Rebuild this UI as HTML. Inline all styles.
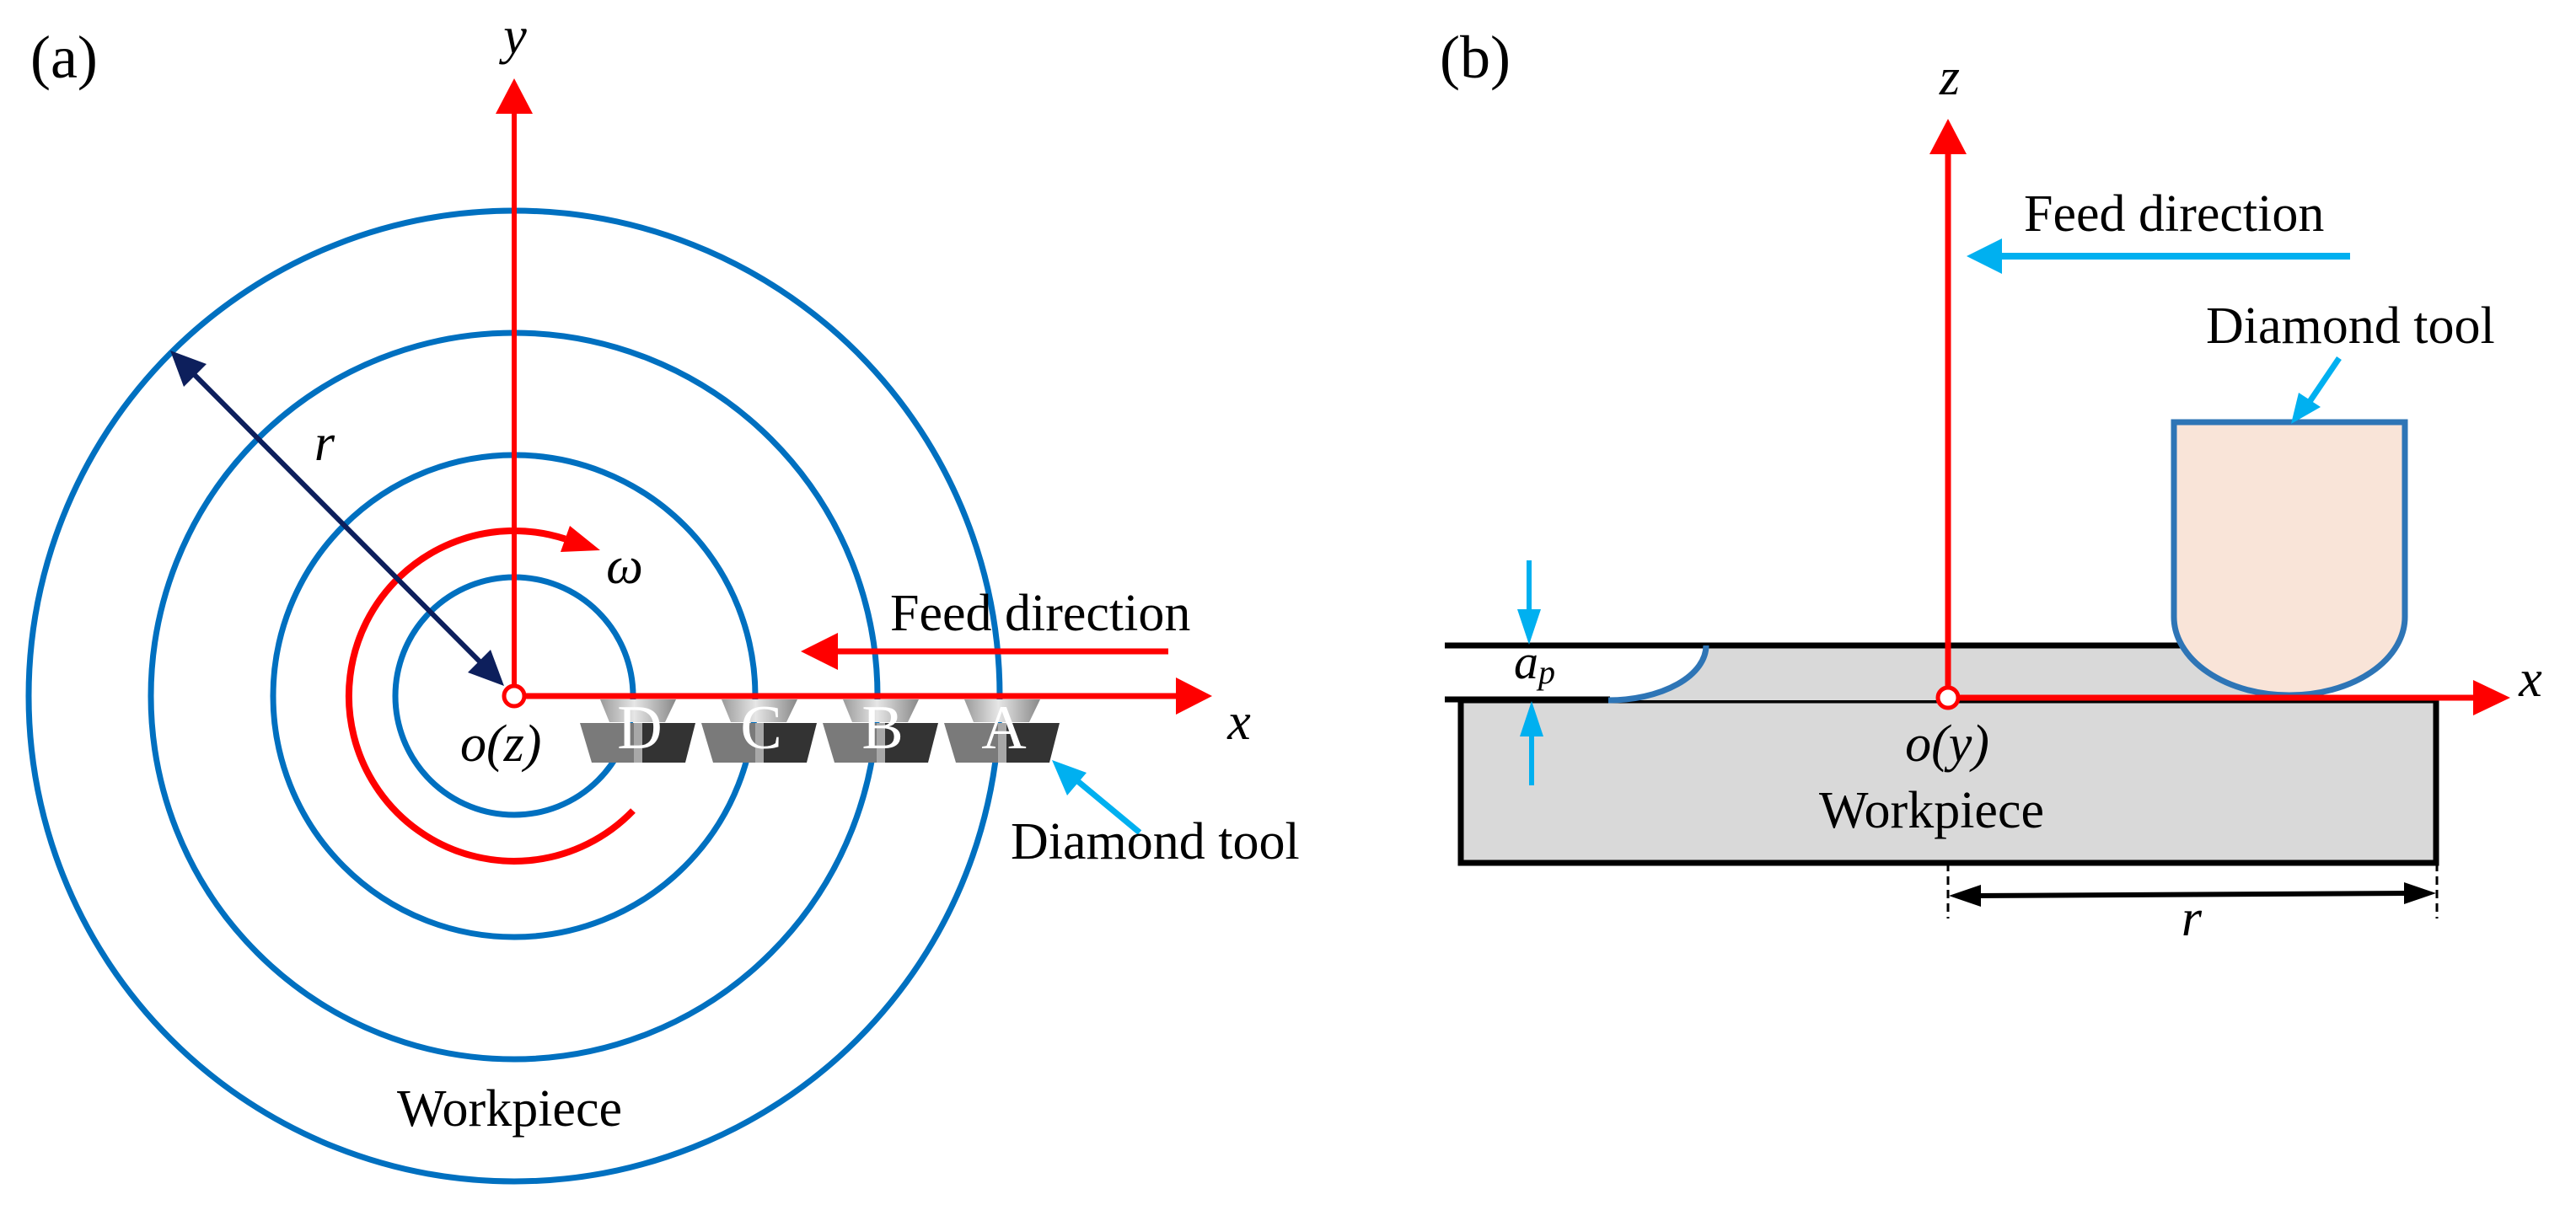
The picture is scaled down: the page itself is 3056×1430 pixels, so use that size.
<!DOCTYPE html>
<html><head><meta charset="utf-8"><style>
html,body{margin:0;padding:0;background:#fff}
svg{display:block}
</style></head><body>
<svg width="3056" height="1430" viewBox="0 0 3056 1430" xmlns="http://www.w3.org/2000/svg" font-family="'Liberation Serif', 'Times New Roman', 'DejaVu Serif', serif">
<defs>
<linearGradient id="cone" x1="0" x2="1" y1="0" y2="0">
<stop offset="0" stop-color="#9a9a9a"/><stop offset="0.45" stop-color="#e6e6e6"/><stop offset="1" stop-color="#888"/>
</linearGradient>
<g id="tool">
<polygon points="24,0 114,0 101,27 35,27" fill="url(#cone)"/>
<polygon points="0,28 74,28 74,75 14,75" fill="#7a7a7a"/>
<polygon points="74,28 137,28 125,75 74,75" fill="#333"/>
<rect x="64" y="28" width="10" height="47" fill="#a8a8a8"/>
</g>
</defs>

<!-- ===== Panel (a) ===== -->
<text x="36" y="92" font-size="72" font-family="'Liberation Serif', serif">(a)</text>
<g fill="none" stroke="#0070c0" stroke-width="7">
<circle cx="610" cy="826" r="576"/>
<circle cx="610" cy="826" r="431"/>
<circle cx="610" cy="826" r="286"/>
<circle cx="610" cy="826" r="141"/>
</g>
<path d="M751,962 A196,196 0 1 1 670.6,639.6" fill="none" stroke="#ff0000" stroke-width="8"/>
<polygon points="712,653 665,655 676,624" fill="#ff0000"/>
<line x1="610" y1="826" x2="610" y2="130" stroke="#ff0000" stroke-width="6"/>
<polygon points="610,93 588,135 632,135" fill="#ff0000"/>
<line x1="610" y1="826" x2="1400" y2="826" stroke="#ff0000" stroke-width="7"/>
<polygon points="1438,826 1395,804 1395,848" fill="#ff0000"/>
<line x1="226" y1="440" x2="574" y2="790" stroke="#0d1f5c" stroke-width="6"/>
<polygon points="202,416 245,432 218,459" fill="#0d1f5c"/>
<polygon points="598,814 555,798 582,771" fill="#0d1f5c"/>
<circle cx="610" cy="826" r="12" fill="#fff" stroke="#ff0000" stroke-width="5"/>
<line x1="1386" y1="773" x2="990" y2="773" stroke="#ff0000" stroke-width="7"/>
<polygon points="950,773 994,751 994,795" fill="#ff0000"/>
<g font-family="'Liberation Serif', serif" fill="#000">
<text x="1056" y="748" font-size="62">Feed direction</text>
</g>
<use href="#tool" x="688" y="830"/>
<use href="#tool" x="832" y="830"/>
<use href="#tool" x="976" y="830"/>
<use href="#tool" x="1120" y="830"/>
<g font-size="74" fill="#fff" font-family="'Liberation Serif', serif" text-anchor="middle">
<text x="759" y="888">D</text>
<text x="903" y="888">C</text>
<text x="1047" y="888">B</text>
<text x="1191" y="888">A</text>
</g>
<line x1="1352" y1="988" x2="1270" y2="920" stroke="#00b0f0" stroke-width="7"/>
<polygon points="1248,902 1289,917 1266,944" fill="#00b0f0"/>
<g font-family="'Liberation Serif', serif" fill="#000" font-size="62">
<text x="1199" y="1019">Diamond tool</text>
<text x="546" y="903" font-style="italic">o(z)</text>
<text x="385" y="546" font-style="italic" text-anchor="middle">r</text>
<text x="741" y="692" font-style="italic" text-anchor="middle">ω</text>
<text x="611" y="63" font-style="italic" text-anchor="middle">y</text>
<text x="1470" y="877" font-style="italic" text-anchor="middle">x</text>
<text x="471" y="1336">Workpiece</text>
</g>

<!-- ===== Panel (b) ===== -->
<text x="1708" y="92" font-size="72" font-family="'Liberation Serif', serif">(b)</text>
<rect x="1733" y="831" width="1157" height="193" fill="#d9d9d9" stroke="#000" stroke-width="7"/>
<path d="M2024,766 L2720,766 L2720,831 L1908,831 A116,65 0 0 0 2024,766 Z" fill="#d9d9d9"/>
<line x1="1714" y1="766" x2="2600" y2="766" stroke="#000" stroke-width="7"/>
<line x1="1714" y1="830" x2="1910" y2="830" stroke="#000" stroke-width="7"/>
<path d="M2024,766 A116,65 0 0 1 1908,831" fill="none" stroke="#2e75b6" stroke-width="7"/>
<path d="M2579,501 L2853,501 L2853,732 A137,93 0 0 1 2579,732 Z" fill="#f9e4d8" stroke="#2e75b6" stroke-width="7"/>
<line x1="2775" y1="425" x2="2735" y2="484" stroke="#00b0f0" stroke-width="7"/>
<polygon points="2718,503 2727,466 2753,483" fill="#00b0f0"/>
<line x1="2311" y1="828" x2="2311" y2="180" stroke="#ff0000" stroke-width="7"/>
<polygon points="2311,141 2289,183 2333,183" fill="#ff0000"/>
<line x1="2311" y1="828" x2="2940" y2="828" stroke="#ff0000" stroke-width="7"/>
<polygon points="2978,828 2934,807 2934,849" fill="#ff0000"/>
<circle cx="2311" cy="828" r="12" fill="#fff" stroke="#ff0000" stroke-width="5"/>
<line x1="2788" y1="304" x2="2370" y2="304" stroke="#00b0f0" stroke-width="8"/>
<polygon points="2333,304 2375,283 2375,325" fill="#00b0f0"/>
<line x1="1814" y1="665" x2="1814" y2="726" stroke="#00b0f0" stroke-width="6"/>
<polygon points="1814,765 1800,723 1828,723" fill="#00b0f0"/>
<line x1="1817" y1="932" x2="1817" y2="870" stroke="#00b0f0" stroke-width="6"/>
<polygon points="1817,832 1803,874 1831,874" fill="#00b0f0"/>
<line x1="2311" y1="1024" x2="2311" y2="1090" stroke="#000" stroke-width="3" stroke-dasharray="10,6"/>
<line x1="2891" y1="1024" x2="2891" y2="1090" stroke="#000" stroke-width="3" stroke-dasharray="10,6"/>
<line x1="2340" y1="1063" x2="2862" y2="1060" stroke="#000" stroke-width="6"/>
<polygon points="2312,1063 2350,1050 2350,1076" fill="#000"/>
<polygon points="2890,1060 2852,1047 2852,1073" fill="#000"/>
<g font-family="'Liberation Serif', serif" fill="#000" font-size="62">
<text x="2617" y="407">Diamond tool</text>
<text x="2313" y="112" font-style="italic" text-anchor="middle">z</text>
<text x="3002" y="826" font-style="italic" text-anchor="middle">x</text>
<text x="2401" y="274">Feed direction</text>
<text x="1796" y="805" font-size="58" font-style="italic">a<tspan font-size="40" dy="6">p</tspan></text>
<text x="2310" y="903" font-style="italic" text-anchor="middle">o(y)</text>
<text x="2158" y="982">Workpiece</text>
<text x="2600" y="1110" font-style="italic" text-anchor="middle">r</text>
</g>
</svg>
</body></html>
